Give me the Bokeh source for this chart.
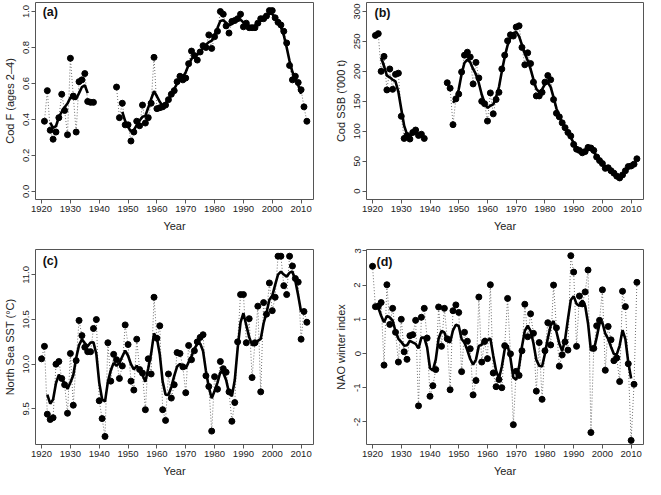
import numpy as np
from bokeh.plotting import figure
from bokeh.models import Range1d, FixedTicker, Label, ColumnDataSource
from bokeh.layouts import column, row
from bokeh.embed import file_html
from bokeh.resources import INLINE

NAN = float("nan")

# ---------------- data ----------------
YEARS_AB = list(range(1921, 2013))
YEARS_CD = list(range(1920, 2013))

COD_F = ([0.39, 0.56, 0.34, 0.29, 0.33, 0.41, 0.54, 0.45, 0.315, 0.74,
          0.53, 0.33, 0.61, 0.62, 0.655, 0.50, 0.495, 0.495]
         + [NAN] * 7 +
         [0.58, 0.41, 0.49, 0.37, 0.37, 0.28, 0.33, 0.39, 0.365, 0.48,
          0.38, 0.41, 0.49, 0.745, 0.46, 0.465, 0.47, 0.48, 0.51, 0.54,
          0.56, 0.61, 0.64, 0.62, 0.63, 0.71, 0.78, 0.755, 0.73, 0.775,
          0.81, 0.80, 0.87, 0.795, 0.86, 0.89, 1.0, 0.985, 0.92, 0.88,
          0.945, 0.95, 0.96, 0.985, 0.915, 0.935, 0.91, 0.91, 0.91, 0.935,
          0.96, 0.96, 0.975, 1.005, 1.005, 0.965, 0.94, 0.925, 0.89, 0.825,
          0.70, 0.62, 0.64, 0.605, 0.565, 0.47, 0.39])

COD_SSB = ([260, 263, 200, 225, 169, 204, 170, 195, 197, 125,
            88, 93, 87, 98, 102, 93, 95, 88]
           + [NAN] * 7 +
           [181, 172, 111, 154, 162, 199, 227, 232, 224, 179,
            215, 189, 150, 146, 117, 164, 129, 153, 165, 204,
            227, 251, 261, 259, 274, 276, 240, 211, 231, 213,
            182, 159, 159, 165, 182, 193, 186, 153, 130, 124,
            114, 106, 98, 92, 78, 70, 68, 64, 66, 73,
            72, 68, 57, 51, 46, 38, 39, 34, 30, 25,
            22, 27, 34, 41, 42, 45, 54])

SST = [10.06, 10.20, 9.44, 9.38, 9.40, 10.00, 10.03, 9.84, 9.77, 9.45,
       10.12, 9.54, 10.04, 10.49, 10.32, 10.19, 10.14, 10.14, 10.40, 10.50,
       9.59, 9.39, 9.19, 10.24, 9.81, 10.11, 10.05, 9.84, 9.98, 10.44,
       10.22, 9.81, 9.71, 10.28, 9.94, 9.90, 9.49, 10.06, 9.89, 10.75,
       10.29, 10.43, 9.49, 9.37, 9.89, 9.62, 9.77, 10.13, 10.12, 9.97,
       9.68, 10.21, 10.05, 10.15, 10.25, 10.30, 10.33, 9.87, 9.75, 9.25,
       9.86, 9.72, 10.03, 9.95, 9.91, 9.69, 9.36, 9.57, 10.25, 10.78,
       10.78, 10.24, 10.51, 9.85, 10.24, 10.65, 9.69, 10.69, 10.56, 10.91,
       10.60, 10.75, 11.21, 11.21, 10.88, 10.78, 11.21, 11.10, 10.96, 10.92,
       10.28, 10.59, 10.47]

NAO = [2.55, 1.37, 1.38, 1.49, -0.34, 2.01, 0.85, 1.32, 0.62, -0.25,
       1.00, 0.05, -0.17, 0.52, 0.55, 0.97, -1.53, 1.06, 1.32, 0.45,
       -1.25, -0.94, -0.47, 1.36, 0.21, 1.32, 0.43, -1.06, 1.25, 1.42,
       1.20, -0.53, 0.62, 0.36, 0.14, -1.21, -0.79, 1.65, -0.25, 0.35,
       -0.15, 2.01, -0.57, -0.97, -0.76, -1.00, 0.23, 1.61, -0.01, -2.08,
       -0.52, -0.64, 0.08, 1.44, 0.49, 1.16, 0.59, -1.10, 0.32, -1.34,
       0.08, 0.90, 0.25, 2.00, 0.75, -0.37, -0.04, 0.34, 0.10, 2.86,
       2.38, 0.21, 1.68, 1.45, 1.80, 2.44, -2.31, 0.15, 0.81, 0.97,
       1.86, -0.49, 0.79, 0.40, -0.21, -0.13, -0.82, 1.82, 1.37, -0.30,
       -2.54, -0.90, 2.08]

X_TICKS = [1920, 1930, 1940, 1950, 1960, 1970, 1980, 1990, 2000, 2010]
X_TICK_LABELS = ["1920", "1930", "1940", "1950", "1960", "1970", "1980", "1990", "2000", "2010"]

A_TICKS = [0.0, 0.2, 0.4, 0.6, 0.8, 1.0]
A_TICK_LABELS = ["0.0", "0.2", "0.4", "0.6", "0.8", "1.0"]
B_TICKS = [0, 50, 100, 150, 200, 250, 300]
B_TICK_LABELS = ["0", "50", "100", "150", "200", "250", "300"]
C_TICKS = [9.5, 10.0, 10.5, 11.0]
C_TICK_LABELS = ["9.5", "10.0", "10.5", "11.0"]
D_TICKS = [-2, -1, 0, 1, 2, 3]
D_TICK_LABELS = ["-2", "-1", "0", "1", "2", "3"]

FONT = "Liberation Sans"
FRAME = "#555555"


def smooth(vals):
    """centred 5-year weighted running mean (1-2-3-2-1)"""
    v = np.array(vals, dtype=float)
    w = np.array([1, 2, 3, 2, 1]) / 9.0
    out = np.full_like(v, np.nan)
    for i in range(2, len(v) - 2):
        seg = v[i - 2:i + 3]
        if not np.isnan(seg).any():
            out[i] = float((seg * w).sum())
    return out


def panel(years, vals, yticks, ylabels, yr, ylabel, tag, tag_xy,
          width, height, bl, br, bt, bb):
    p = figure(width=width, height=height,
               x_range=Range1d(1917.9, 2014.3), y_range=Range1d(*yr),
               output_backend="svg", toolbar_location=None,
               min_border_left=bl, min_border_right=br,
               min_border_top=bt, min_border_bottom=bb)
    p.xgrid.visible = False
    p.ygrid.visible = False
    p.outline_line_color = FRAME
    p.outline_line_width = 1
    p.background_fill_color = "white"
    p.border_fill_color = "white"

    src = ColumnDataSource(dict(x=np.array(years, dtype=float),
                                y=np.array(vals, dtype=float),
                                s=smooth(vals)))
    p.line("x", "y", source=src, line_dash="1 2", line_color="#707070", line_width=1)
    p.scatter("x", "y", source=src, size=6, color="black")
    p.line("x", "s", source=src, line_color="black", line_width=2.6)

    for ax in (p.xaxis[0], p.yaxis[0]):
        ax.axis_line_color = None
        ax.major_tick_line_color = FRAME
        ax.major_tick_in = 0
        ax.major_tick_out = 4
        ax.minor_tick_line_color = None
        ax.major_label_text_font = FONT
        ax.major_label_text_font_size = "9.5px"
        ax.major_label_text_color = "#222222"
        ax.axis_label_text_font = FONT
        ax.axis_label_text_font_size = "11px"
        ax.axis_label_text_font_style = "normal"
        ax.axis_label_text_color = "#222222"
        ax.major_label_standoff = 2
        ax.axis_label_standoff = 5

    p.xaxis.ticker = FixedTicker(ticks=X_TICKS)
    p.xaxis.major_label_overrides = {t: l for t, l in zip(X_TICKS, X_TICK_LABELS)}
    p.xaxis.axis_label = "Year"
    p.yaxis.ticker = FixedTicker(ticks=yticks)
    p.yaxis.major_label_overrides = {t: l for t, l in zip(yticks, ylabels)}
    p.yaxis.major_label_orientation = "vertical"
    p.yaxis.axis_label = ylabel

    p.add_layout(Label(x=tag_xy[0], y=tag_xy[1], text=tag, text_font=FONT,
                       text_font_size="12.5px", text_font_style="bold",
                       text_baseline="top", text_align="left", text_color="#111111"))
    return p


pa = panel(YEARS_AB, COD_F, A_TICKS, A_TICK_LABELS, (-0.045, 1.05),
           "Cod F (ages 2\u20134)", "(a)", (1920.4, 1.035), 314, 243, 34, 1, 2, 44)
pb = panel(YEARS_AB, COD_SSB, B_TICKS, B_TICK_LABELS, (-14, 315),
           "Cod SSB ('000 t)", "(b)", (1920.7, 309), 331, 243, 52, 2, 2, 44)
pc = panel(YEARS_CD, SST, C_TICKS, C_TICK_LABELS, (9.10, 11.285),
           "North Sea SST (\u00b0C)", "(c)", (1920.4, 11.23), 314, 236, 34, 1, 6, 34)
pd = panel(YEARS_CD, NAO, D_TICKS, D_TICK_LABELS, (-2.66, 3.04),
           "NAO winter index", "(d)", (1921.4, 2.87), 331, 236, 52, 2, 6, 34)

layout = column(row(pa, pb), row(pc, pd))

open("out.html", "w").write(file_html(layout, INLINE))
